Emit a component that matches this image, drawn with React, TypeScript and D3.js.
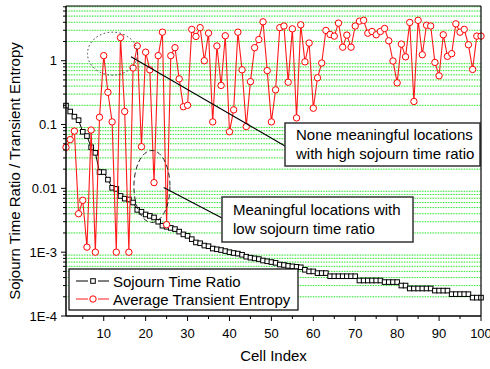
import React from 'react';
import * as d3 from 'd3';

// Sojourn time ratio per cell, sorted descending (black squares)
const sojournRatio = [
  0.198, 0.16, 0.133, 0.117, 0.077, 0.066, 0.044, 0.036, 0.018, 0.018,
  0.0137, 0.0102, 0.0098, 0.0076, 0.0069, 0.0067, 0.006, 0.0046, 0.0043, 0.0039,
  0.0037, 0.0035, 0.003, 0.0026, 0.0025, 0.0024, 0.0023, 0.0021, 0.0019, 0.0018,
  0.0016, 0.00142, 0.00138, 0.00127, 0.00124, 0.00114, 0.00111, 0.00108, 0.00104, 0.001,
  0.00097, 0.00095, 0.00091, 0.00085, 0.00082, 0.0008, 0.00078, 0.00074, 0.00072, 0.0007,
  0.00068, 0.00064, 0.00063, 0.00061, 0.0006, 0.00059, 0.00058, 0.00053, 0.0005, 0.0005,
  0.00047, 0.00047, 0.00047, 0.00042, 0.00042, 0.00042, 0.00042, 0.00042, 0.00042, 0.00042,
  0.00036, 0.00036, 0.00036, 0.00036, 0.00036, 0.00036, 0.00034, 0.00034, 0.00034, 0.00034,
  0.0003, 0.0003, 0.00027, 0.00027, 0.00027, 0.00027, 0.00027, 0.00027, 0.00025, 0.00025,
  0.00025, 0.00025, 0.00022, 0.00022, 0.00022, 0.00022, 0.00022, 0.000194, 0.000194, 0.000194,
];

// Average transient entropy per cell (red circles)
const transientEntropy = [
  0.044, 0.058, 0.079, 0.004, 0.0065, 0.0012, 0.082, 0.001, 0.13, 1.2,
  0.32, 0.11, 0.001, 2.3, 0.16, 0.001, 0.77, 1.7, 0.045, 1.36,
  0.72, 0.0123, 1.2, 2.8, 0.0027, 1.2, 1.6, 0.52, 0.19, 0.2,
  3.1, 2.4, 3.3, 1.0, 2.7, 0.11, 1.7, 0.41, 2.46, 0.077,
  0.17, 2.8, 0.72, 0.093, 0.47, 1.6, 2.15, 4.07, 0.7, 0.11,
  0.35, 3.3, 3.5, 0.46, 3.16, 0.127, 3.65, 0.96, 1.89, 0.18,
  0.54, 0.92, 2.98, 2.58, 2.43, 3.88, 1.63, 2.52, 1.63, 3.5,
  4.17, 4.3, 2.7, 2.87, 2.55, 2.87, 3.2, 2.05, 0.99, 0.45,
  1.82, 1.15, 3.98, 0.23, 4.3, 1.24, 3.6, 3.5, 0.94, 0.58,
  2.55, 1.17, 1.29, 3.78, 2.8, 3.1, 1.78, 0.73, 2.43, 2.43,
];

const xTicks = [10, 20, 30, 40, 50, 60, 70, 80, 90, 100];
const xMinorTicks = [5, 15, 25, 35, 45, 55, 65, 75, 85, 95];
const yTicks = [1e-4, 1e-3, 0.01, 0.1, 1];
const yTickLabels = ['1E-4', '1E-3', '0.01', '0.1', '1'];

const seriesNames = ['Sojourn Time Ratio', 'Average Transient Entropy'];

const W = 490;
const H = 369;
const margin = { top: 6, right: 9, bottom: 53, left: 66 };
const FONT = "Arial, 'Liberation Sans', sans-serif";

const App: React.FC = () => {
  const x = d3.scaleLinear().domain([1, 100]).range([margin.left, W - margin.right]);
  const y = d3.scaleLog().domain([1e-4, 7.2]).range([H - margin.bottom, margin.top]);

  const [x0, x1] = x.range();
  const [yb, yt] = y.range();

  // minor log positions 2..9 in each decade
  const minor: number[] = [];
  [1e-4, 1e-3, 1e-2, 1e-1, 1].forEach((dec) => {
    for (let k = 2; k <= 9; k++) {
      const v = dec * k;
      if (v <= 7.2) minor.push(v);
    }
  });

  const line = d3.line<number>()
    .x((_, i) => x(i + 1))
    .y((d) => y(d));

  const sq = 4.6;

  return (
    <svg width={W} height={H} style={{ position: 'absolute', left: 0, top: 0, background: '#fff' }} fontFamily={FONT}>
      {/* grid */}
      {minor.map((v, i) => (
        <g key={'g' + i}>
          <line x1={x0} x2={x1} y1={y(v)} y2={y(v)} stroke="#d4f8d4" strokeWidth={1} />
          <line x1={x0} x2={x1} y1={y(v)} y2={y(v)} stroke="#2ee82e" strokeWidth={1} strokeDasharray="1.2,1.4" />
        </g>
      ))}

      {/* sojourn series */}
      <path d={line(sojournRatio) || ''} fill="none" stroke="#000" strokeWidth={1} />
      {sojournRatio.map((v, i) => (
        <rect key={'s' + i} x={x(i + 1) - sq / 2} y={y(v) - sq / 2} width={sq} height={sq}
          fill="#fff" stroke="#000" strokeWidth={1} />
      ))}

      {/* entropy series */}
      <path d={line(transientEntropy) || ''} fill="none" stroke="#ff1a1a" strokeWidth={1.1} />
      {transientEntropy.map((v, i) => (
        <circle key={'e' + i} cx={x(i + 1)} cy={y(v)} r={3.2} fill="#fff" stroke="#ff0000" strokeWidth={1} />
      ))}

      {/* annotation ellipses */}
      <ellipse cx={x(12.1)} cy={y(1.29)} rx={25} ry={21.5} fill="none" stroke="#333" strokeWidth={1} strokeDasharray="1.5,2.5" />
      <ellipse cx={x(21.5)} cy={y(0.0107)} rx={18} ry={36} fill="none" stroke="#222" strokeWidth={1} strokeDasharray="5,3" />

      {/* leader lines */}
      <line x1={x(16.5)} y1={y(1.15)} x2={285} y2={146} stroke="#000" strokeWidth={1.1} />
      <line x1={x(24.3)} y1={y(0.0103)} x2={222} y2={218} stroke="#000" strokeWidth={1.1} />

      {/* annotation boxes */}
      <rect x={285} y={123} width={195} height={43} fill="#fff" stroke="#333" strokeWidth={1.5} />
      <text x={296} y={140} fontSize={15} fill="#000">None meaningful locations</text>
      <text x={296} y={159} fontSize={15} fill="#000">with high sojourn time ratio</text>

      <rect x={222} y={197} width={191} height={45} fill="#fff" stroke="#333" strokeWidth={1.5} />
      <text x={233} y={215} fontSize={15} fill="#000">Meaningful locations with</text>
      <text x={233} y={234} fontSize={15} fill="#000">low sojourn time ratio</text>

      {/* legend */}
      <rect x={69} y={269} width={229} height={41} fill="#fff" stroke="#000" strokeWidth={1.2} />
      {seriesNames.map((name, i) => {
        const ly = 281 + i * 18;
        const col = i === 0 ? '#000' : '#ff1a1a';
        return (
          <g key={name}>
            <line x1={76} x2={88} y1={ly} y2={ly} stroke={col} strokeWidth={1} />
            <line x1={98} x2={109} y1={ly} y2={ly} stroke={col} strokeWidth={1} />
            {i === 0
              ? <rect x={93 - sq / 2} y={ly - sq / 2} width={sq} height={sq} fill="#fff" stroke="#000" />
              : <circle cx={93} cy={ly} r={3.2} fill="#fff" stroke="#ff0000" />}
            <text x={113} y={ly + 5.5} fontSize={15} fill="#000">{name}</text>
          </g>
        );
      })}

      {/* frame */}
      <line x1={x0} x2={x1} y1={yt} y2={yt} stroke="#000" strokeWidth={1.2} />
      <line x1={x1} x2={x1} y1={yt} y2={yb} stroke="#000" strokeWidth={1.2} />
      <line x1={x0} x2={x1} y1={yb} y2={yb} stroke="#000" strokeWidth={1.5} />
      <line x1={x0} x2={x0} y1={yt} y2={yb} stroke="#000" strokeWidth={1.5} />

      {/* y ticks */}
      {yTicks.map((v, i) => (
        <g key={'yt' + i}>
          <line x1={x0 - 5} x2={x0} y1={y(v)} y2={y(v)} stroke="#000" strokeWidth={1} />
          <text x={x0 - 9} y={y(v) + 4.5} fontSize={13} textAnchor="end" fill="#000">{yTickLabels[i]}</text>
        </g>
      ))}
      {minor.map((v, i) => (
        <line key={'ym' + i} x1={x0 - 3} x2={x0} y1={y(v)} y2={y(v)} stroke="#000" strokeWidth={1} />
      ))}

      {/* x ticks */}
      {xTicks.map((v) => (
        <g key={'xt' + v}>
          <line x1={x(v)} x2={x(v)} y1={yb} y2={yb + 5} stroke="#000" strokeWidth={1} />
          <text x={x(v)} y={yb + 22} fontSize={13} textAnchor="middle" fill="#000">{v}</text>
        </g>
      ))}
      {xMinorTicks.map((v) => (
        <line key={'xm' + v} x1={x(v)} x2={x(v)} y1={yb} y2={yb + 3} stroke="#000" strokeWidth={1} />
      ))}

      {/* axis titles */}
      <text x={(x0 + x1) / 2} y={361} fontSize={15} textAnchor="middle" fill="#000">Cell Index</text>
      <text transform={`translate(20,${(yt + yb) / 2 + 10}) rotate(-90)`} fontSize={15} textAnchor="middle" fill="#000">
        Sojourn Time Ratio / Transient Entropy
      </text>
    </svg>
  );
};

export default App;
